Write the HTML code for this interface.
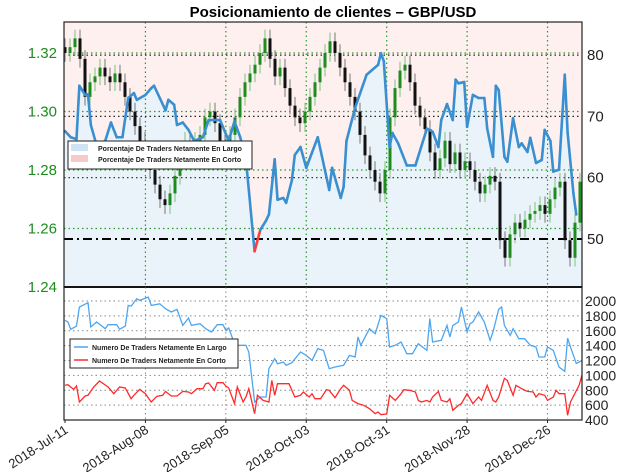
<!DOCTYPE html>
<html><head><meta charset="utf-8"><style>
html,body{margin:0;padding:0;background:#fff;}
svg{display:block;font-family:"Liberation Sans",sans-serif;}
</style></head><body>
<svg id="c" width="624" height="472" viewBox="0 0 624 472"></svg>
<script>
// ---- data ----
const priceClose = [1.320,1.322,1.325,1.318,1.305,1.310,1.312,1.315,1.312,1.310,1.313,1.310,1.305,1.300,1.295,1.290,1.285,1.280,1.275,1.270,1.268,1.272,1.278,1.285,1.290,1.288,1.290,1.292,1.298,1.300,1.296,1.290,1.286,1.292,1.298,1.305,1.310,1.313,1.316,1.320,1.325,1.318,1.312,1.315,1.308,1.302,1.298,1.296,1.300,1.305,1.310,1.315,1.320,1.324,1.320,1.315,1.310,1.305,1.300,1.292,1.285,1.280,1.276,1.272,1.280,1.298,1.308,1.314,1.316,1.310,1.302,1.298,1.294,1.286,1.280,1.284,1.290,1.282,1.286,1.280,1.283,1.280,1.276,1.272,1.275,1.278,1.276,1.256,1.250,1.258,1.262,1.260,1.263,1.265,1.266,1.268,1.265,1.270,1.274,1.276,1.256,1.250,1.262,1.276];
const pctDays = [0,2,4,5,7,8,9,11,14,16,18,20,22,24,25,28,30,31,33,35,36,38,39,41,43,45,48,50,54,57,59,61,63,64,66,68,70,71,73,74,76,77,79,80,82,84,88,92,93,96,97,98,101,105,109,110,111,113,114,116,119,122,126,128,130,131,133,135,136,137,139,140,142,144,146,147,149,150,151,153,154,156,158,159,161,162,164,166,167,169,170,172,174,175,177,178];
const pctLong = [67.6,66.6,66.3,75,73.5,73.6,68.6,65.3,66,69,66.6,66.6,73,73.8,72.7,73.5,74.6,75,73,71,72.7,71.9,68.6,69,67.8,66,66.6,69.4,69.4,66,69.2,66.6,62.9,58,48,51.5,53,54,63,56.4,56.7,55.9,59.6,63.7,65,61.6,66.6,58,61.6,56.7,58.5,66,71.4,76.8,78.4,80.3,79,65,67.3,65.6,62,62,68,67.5,65,69.4,72,69.4,76,75.4,75.6,68.3,73.5,73,73,68,63.4,75,74.3,63.4,62.6,69.7,65,65.6,64.2,66.5,62.4,62.9,67.8,66,61,61.3,76.8,67.3,57.5,54];
const longDays = [0,1,2,4,5,8,9,11,14,15,18,19,21,22,23,25,26,29,30,33,35,37,39,41,43,44,47,49,51,53,55,56,57,59,60,61,63,64,66,68,70,71,73,74,76,77,79,82,84,86,88,90,92,94,97,99,101,102,103,106,108,110,112,113,115,117,119,121,123,126,127,128,131,133,134,135,137,138,140,141,142,144,146,148,149,151,152,153,155,156,158,160,162,164,165,167,168,170,172,174,175,176,178,180];
const longCount = [1740,1717,1619,1663,1919,1977,1650,1717,1628,1681,1681,1619,1663,1941,1932,2031,2008,2053,1941,1963,1896,1852,1887,1672,1771,1672,1695,1628,1583,1681,1681,1605,1637,1426,1404,1404,1404,1314,642,709,709,1090,1224,1157,1179,1135,1170,1314,1269,1202,1359,1336,1090,1112,1135,1269,1247,1516,1404,1628,1561,1807,1763,1381,1404,1449,1292,1292,1426,1336,1763,1449,1471,1672,1516,1672,1717,1919,1583,1695,1717,1852,1717,1471,1583,1887,1919,1672,1538,1628,1493,1493,1404,1381,1247,1247,1381,1336,1112,1054,1500,1380,1160,1200];
const shortDays = [0,1,3,4,5,7,8,10,12,15,17,19,21,23,24,26,28,30,32,34,35,37,39,41,43,44,46,48,49,50,52,53,55,56,57,59,60,62,63,64,66,67,69,71,72,73,74,76,78,80,82,83,85,86,87,89,91,92,94,96,97,99,100,102,104,106,108,109,110,112,113,115,117,118,120,122,123,124,126,127,128,130,131,133,134,135,137,138,140,141,142,144,145,147,149,150,151,153,154,156,157,159,161,163,164,165,167,168,170,171,172,174,175,176,179,180];
const shortCount = [866,875,812,857,642,723,732,844,924,844,754,844,830,687,732,812,754,642,718,732,785,723,723,785,776,754,821,821,888,897,799,902,902,857,830,620,844,642,709,821,485,732,664,642,933,732,888,888,888,709,732,776,709,754,687,687,808,799,700,821,866,799,664,620,597,552,485,508,472,481,732,664,754,808,799,776,664,642,664,642,709,785,664,642,687,530,597,620,754,687,620,709,664,866,664,642,709,960,933,732,866,821,785,776,709,754,732,664,709,799,754,754,463,642,866,1004];
const dateLabels = ["2018-Jul-11","2018-Aug-08","2018-Sep-05","2018-Oct-03","2018-Oct-31","2018-Nov-28","2018-Dec-26"];
const priceTicks = [1.24,1.26,1.28,1.30,1.32];
const pctTicks = [50,60,70,80];
const countTicks = [400,600,800,1000,1200,1400,1600,1800,2000];

// ---- scales ----
const L=64,R=582,T=22,M=287,B=420;
const xDay=d=>65+d*(517/180);
const xIdx=i=>65+i*(515/(priceClose.length-1));
const yPrice=p=>M-(p-1.24)/0.02*58.5;
const yPct=v=>239-(v-50)*6.13;
const yCnt=v=>B-(v-400)*(119/1600);

const svg=document.getElementById('c');
const NS='http://www.w3.org/2000/svg';
function mk(tag,attrs,parent){const e=document.createElementNS(NS,tag);for(const k in attrs)e.setAttribute(k,attrs[k]);(parent||svg).appendChild(e);return e;}

let t=mk('text',{x:333,y:17,'text-anchor':'middle','font-size':15,'font-weight':'bold',fill:'#000'});
t.textContent='Posicionamiento de clientes – GBP/USD';



let bg=mk('rect',{x:L,y:T,width:R-L,height:M-T,fill:'#fdf0ef'});


let area='M'+L+','+M+' L'+L+','+yPct(pctLong[0]).toFixed(1);
pctDays.forEach((d,i)=>{area+=' L'+xDay(d).toFixed(1)+','+yPct(pctLong[i]).toFixed(1);});
area+=' L'+R+','+yPct(pctLong[pctLong.length-1]).toFixed(1)+' L'+R+','+M+' Z';
let la=mk('path',{d:area,fill:'#ebf3fa'});



const gT=mk('g',{});


dateLabels.forEach((s,i)=>{const x=xDay(i*28);if(i>0)mk('line',{x1:x,y1:T,x2:x,y2:M,stroke:'#2a9a2a','stroke-width':1.2,'stroke-dasharray':'1.5,3'},gT);});
priceTicks.forEach(p=>{if(p>1.24)mk('line',{x1:L,y1:yPrice(p),x2:R,y2:yPrice(p),stroke:'#2a9a2a','stroke-width':1.2,'stroke-dasharray':'1.5,3'},gT);});
pctTicks.forEach(v=>{if(v>50)mk('line',{x1:L,y1:yPct(v),x2:R,y2:yPct(v),stroke:'#222','stroke-width':1.2,'stroke-dasharray':'1.5,3'},gT);});
let dd=mk('line',{x1:L,y1:yPct(50),x2:R,y2:yPct(50),stroke:'#000','stroke-width':2,'stroke-dasharray':'9,4,2,4'});



const gC=mk('g',{});


priceClose.forEach((c,i)=>{
  const o=i>0?priceClose[i-1]:c+0.002;
  const up=c>=o;const col=up?'#1e8c1e':'#111';
  const x=xIdx(i);const hi=Math.max(o,c)+0.003,lo=Math.min(o,c)-0.003;
  mk('line',{x1:x,y1:yPrice(hi),x2:x,y2:yPrice(lo),stroke:up?'#7cbf7c':'#777','stroke-width':1},gC);
  const y1=yPrice(Math.max(o,c)),y2=yPrice(Math.min(o,c));
  const r=mk('rect',{x:x-1.5,y:y1,width:3,height:Math.max(1,y2-y1),fill:col},gC);
  
  
});

const gP=mk('g',{});


for(let i=1;i<pctDays.length;i++){
  const red=pctLong[i-1]<50;
  mk('line',{x1:xDay(pctDays[i-1]),y1:yPct(pctLong[i-1]),x2:xDay(pctDays[i]),y2:yPct(pctLong[i]),stroke:red?'#ff3b3b':'#3a8fd0','stroke-width':2.6,'stroke-linecap':'round'},gP);
}

let f1=mk('rect',{x:L,y:T,width:R-L,height:M-T,fill:'none',stroke:'#222','stroke-width':1.2});


mk('line',{x1:L,y1:M,x2:R,y2:M,stroke:'#000','stroke-width':2});

priceTicks.forEach(p=>{const e=mk('text',{x:57,y:yPrice(p)+5,'text-anchor':'end','font-size':15,fill:'#1e8c1e'});e.textContent=p.toFixed(2);

});
pctTicks.forEach(v=>{const e=mk('text',{x:587,y:yPct(v)+5,'font-size':15,fill:'#222'});e.textContent=v;

});

const lg=mk('g',{});


mk('rect',{x:68,y:141,width:184,height:28,fill:'#fff',stroke:'#222','stroke-width':1},lg);
mk('rect',{x:71,y:144,width:17,height:7,fill:'#cfe3f6'},lg);
mk('rect',{x:71,y:155,width:17,height:7,fill:'#f8c9c9'},lg);
let l1=mk('text',{x:98,y:151,'font-size':7,'font-weight':'bold',fill:'#222'},lg);l1.textContent='Porcentaje De Traders Netamente En Largo';
let l2=mk('text',{x:98,y:162,'font-size':7,'font-weight':'bold',fill:'#222'},lg);l2.textContent='Porcentaje De Traders Netamente En Corto';

const gB=mk('g',{});


countTicks.forEach(v=>{if(v>400)mk('line',{x1:L,y1:yCnt(v),x2:R,y2:yCnt(v),stroke:'#888','stroke-width':1,'stroke-dasharray':'1.5,3'},gB);});
dateLabels.forEach((s,i)=>{const x=xDay(i*28);if(i>0)mk('line',{x1:x,y1:M,x2:x,y2:B,stroke:'#888','stroke-width':1,'stroke-dasharray':'1.5,3'},gB);});

function poly(days,vals,col,name){
  const n=Math.min(days.length,vals.length);
  const pts=[];for(let i=0;i<n;i++)pts.push(xDay(days[i]).toFixed(1)+','+yCnt(vals[i]).toFixed(1));
  const p=mk('polyline',{points:pts.join(' '),fill:'none',stroke:col,'stroke-width':1.3});
  
  
}
poly(longDays,longCount,'#4ea6f0','long-count-line');
poly(shortDays,shortCount,'#ff2a2a','short-count-line');

let f2=mk('rect',{x:L,y:M,width:R-L,height:B-M,fill:'none',stroke:'#222','stroke-width':1.2});



countTicks.forEach(v=>{const e=mk('text',{x:585,y:yCnt(v)+5,'font-size':14,fill:'#222'});e.textContent=v;

});

const lg2=mk('g',{});


mk('rect',{x:70,y:339,width:168,height:29,fill:'#fff',stroke:'#222','stroke-width':1},lg2);
mk('line',{x1:74,y1:347,x2:88,y2:347,stroke:'#4ea6f0','stroke-width':1.5},lg2);
mk('line',{x1:74,y1:360,x2:88,y2:360,stroke:'#ff2a2a','stroke-width':1.5},lg2);
let l3=mk('text',{x:92,y:350,'font-size':7,'font-weight':'bold',fill:'#222'},lg2);l3.textContent='Numero De Traders Netamente En Largo';
let l4=mk('text',{x:92,y:363,'font-size':7,'font-weight':'bold',fill:'#222'},lg2);l4.textContent='Numero De Traders Netamente En Corto';

dateLabels.forEach((s,i)=>{const x=xDay(i*28);
  mk('line',{x1:x,y1:B,x2:x,y2:B+3,stroke:'#222'});
  const e=mk('text',{x:x+4,y:B+12,'text-anchor':'end','font-size':13,fill:'#222',transform:'rotate(-33 '+(x+4)+' '+(B+12)+')'});
  e.textContent=s;
  
  
});
</script>
</body></html>
